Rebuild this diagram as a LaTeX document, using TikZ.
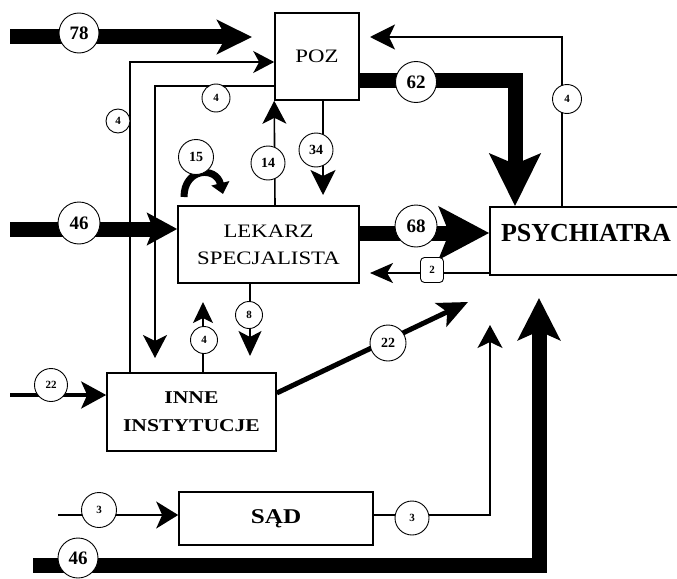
\documentclass[tikz,border=0pt]{standalone}
\usepackage{fontspec}
\setmainfont{Liberation Serif}
\newfontfamily\boxf[FakeStretch=1.2]{Liberation Serif}
\newfontfamily\labf{Liberation Serif}
\usetikzlibrary{arrows.meta}
\begin{document}
\begin{tikzpicture}[x=1pt,y=-1pt,
  boxst/.style={draw, line width=1.6pt, inner sep=0pt},
  wire/.style={line width=1.6pt},
  bar/.style={line width=15pt, line join=miter},
  lab/.style={circle, draw, fill=white, line width=0.9pt, inner sep=0pt, minimum size=#1},
  fbig/.style={font=\labf\bfseries\fontsize{19}{19}\selectfont},
  fmid/.style={font=\labf\bfseries\fontsize{14}{14}\selectfont},
  fsmall/.style={font=\labf\bfseries\fontsize{11}{11}\selectfont},
]
\clip (0,0) rectangle (677,578);
\fill[white] (0,0) rectangle (677,578);

% boxes
\node[boxst, minimum width=84pt, minimum height=87pt, font=\boxf\fontsize{19}{19}\selectfont] (poz) at (317,56.5) {POZ};
\node[boxst, minimum width=181pt, minimum height=77pt, align=center, font=\boxf\fontsize{19}{27}\selectfont] (lek) at (268.5,244.5) {LEKARZ\\SPECJALISTA};
\node[boxst, minimum width=190pt, minimum height=68pt] (psy) at (585,241) {};
\node[font=\bfseries\fontsize{26}{26}\selectfont, inner sep=0pt] (psyt) at (586,233) {PSYCHIATRA};
\node[boxst, minimum width=169pt, minimum height=78pt, align=center, font=\boxf\bfseries\fontsize{18}{28}\selectfont] (inne) at (191.5,412) {INNE\\INSTYTUCJE};
\node[boxst, minimum width=194pt, minimum height=53pt, font=\boxf\bfseries\fontsize{21}{21}\selectfont] (sad) at (276,518.5) {SĄD};

% free ends
\coordinate (s78) at (10,37);
\coordinate (e78) at (252,37);
\coordinate (bEnd) at (155,358);
\coordinate (dEnd) at (323,195);
\coordinate (s46) at (10,229);
\coordinate (gEnd) at (370,273);
\coordinate (iEnd) at (370,37);
\coordinate (jEnd) at (250,356);
\coordinate (kEnd) at (203,302);
\coordinate (lStart) at (10,395);
\coordinate (mEnd) at (468,302);
\coordinate (nStart) at (58,515);
\coordinate (oEnd) at (490,325);
\coordinate (pStart) at (33,565);
\coordinate (pEnd) at (539,298);
\coordinate (qStart) at (184,197);
\coordinate (qEnd) at (223,194);

% connectors
\draw[bar, -{Stealth[length=35pt,width=34pt,inset=9pt]}] (s78) -- (e78);
\draw[wire, -{Stealth[length=21pt,width=22pt,inset=6pt]}] ([xshift=24pt]inne.north west) |- ([yshift=-5.5pt]poz.west);
\draw[wire, -{Stealth[length=23pt,width=24pt,inset=6pt]}] ([yshift=-29.5pt]poz.west) -| (bEnd);
\draw[wire, -{Stealth[length=23pt,width=24pt,inset=6pt]}] ([xshift=6.5pt]lek.north) -- (poz.south west);
\draw[wire, -{Stealth[length=25pt,width=25pt,inset=6pt]}] ([xshift=6pt]poz.south) -- (dEnd);
\draw[bar, -{Stealth[length=30pt,width=32pt,inset=6pt]}] (s46) -- (s46 -| lek.west);
\draw[bar, -{Stealth[length=50pt,width=52pt,inset=10pt]}] ([yshift=11.5pt]lek.east) -- ([yshift=8pt]psy.west);
\draw[wire, -{Stealth[length=23pt,width=20pt,inset=6pt]}] ([yshift=-32pt]psy.west) -- (gEnd);
\draw[bar, -{Stealth[length=52pt,width=50pt,inset=10pt]}] ([yshift=-23.5pt]poz.east) -| ([xshift=-70pt]psy.north);
\draw[wire, -{Stealth[length=25pt,width=25pt,inset=6pt]}] ([xshift=-23pt]psy.north) |- (iEnd);
\draw[wire, -{Stealth[length=25pt,width=23pt,inset=6pt]}] ([xshift=-18.5pt]lek.south) -- (jEnd);
\draw[wire, -{Stealth[length=21pt,width=20pt,inset=5pt]}] ([xshift=11.5pt]inne.north) -- (kEnd);
\draw[line width=3.5pt, -{Stealth[length=25pt,width=27pt,inset=6pt]}] (lStart) -- ([yshift=17pt]inne.west);
\draw[line width=5pt, -{Stealth[length=30pt,width=26pt,inset=7pt]}] ([yshift=19pt]inne.east) -- (mEnd);
\draw[wire, -{Stealth[length=22pt,width=27pt,inset=6pt]}] (nStart) -- ([yshift=3.5pt]sad.west);
\draw[wire, -{Stealth[length=23pt,width=25pt,inset=6pt]}] ([yshift=3.5pt]sad.east) -| (oEnd);
\draw[bar, -{Stealth[length=42pt,width=42pt,inset=9pt]}] (pStart) -| (pEnd);
\draw[line width=7pt, -{Triangle[length=11pt,width=18pt]}] (qStart) .. controls (184,168) and (216,166) .. (qEnd);

% labels
\node[lab=40pt, fbig] (l78) at (79,33) {78};
\node[lab=24pt, fsmall] (l4a) at (118,121) {4};
\node[lab=28pt, fsmall] (l4b) at (216,98) {4};
\node[lab=35pt, fmid] (l15) at (196,157) {15};
\node[lab=34pt, fmid] (l14) at (268,163) {14};
\node[lab=34pt, fmid] (l34) at (316,150) {34};
\node[lab=42pt, fbig] (l46a) at (79,223) {46};
\node[lab=42pt, fbig] (l68) at (416,226) {68};
\node[draw, fill=white, rounded corners=4pt, line width=0.9pt, minimum width=23pt, minimum height=25pt, inner sep=0pt, fsmall] (l2) at (432,270) {2};
\node[lab=41pt, fbig] (l62) at (416,82) {62};
\node[lab=29pt, fsmall] (l4c) at (567,99) {4};
\node[lab=27pt, fsmall] (l8) at (249,315) {8};
\node[lab=27pt, fsmall] (l4d) at (204,340) {4};
\node[lab=33pt, fsmall] (l22a) at (51,385) {22};
\node[lab=36pt, fmid] (l22b) at (388,343) {22};
\node[lab=35pt, fsmall] (l3a) at (99,510) {3};
\node[lab=34pt, fsmall] (l3b) at (412,518) {3};
\node[lab=40pt, fbig] (l46b) at (78,558) {46};
\end{tikzpicture}
\end{document}
